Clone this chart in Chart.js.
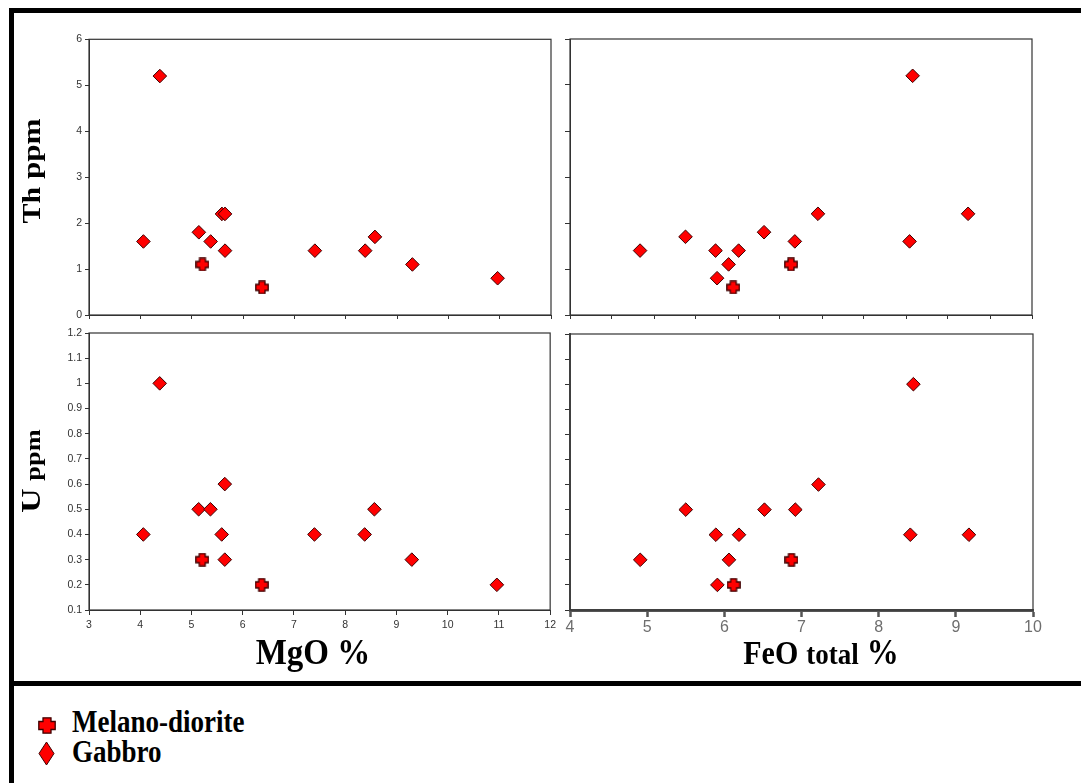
<!DOCTYPE html>
<html>
<head>
<meta charset="utf-8">
<title>Th and U versus MgO and FeO total</title>
<script src="https://cdn.jsdelivr.net/npm/chart.js"></script>
<style>
  body { margin: 0; background: #fff; }
  #page { position: relative; width: 1081px; height: 783px; overflow: hidden; background: #fff; font-family: "Liberation Serif", "Times New Roman", serif; }
  .bar { position: absolute; background: #000; }
  .panel { position: absolute; }
  .title { position: absolute; font-weight: bold; white-space: nowrap; color: #000; }
  .vtitle { line-height: 30px; font-size: 26px; transform: translate(-50%, -50%) rotate(-90deg) scale(1.2, 1); }
  .icon { position: absolute; }
</style>
</head>
<body>
<div id="page">
  <div class="bar" style="left:9px;top:8px;width:1072px;height:5px"></div>
  <div class="bar" style="left:9px;top:8px;width:5px;height:775px"></div>
  <div class="bar" style="left:9px;top:681px;width:1072px;height:5px"></div>

  <canvas id="thMgo" class="panel" width="520" height="300" style="left:40px;top:30px"></canvas>
  <canvas id="thFeo" class="panel" width="521" height="300" style="left:560px;top:30px"></canvas>
  <canvas id="uMgo" class="panel" width="520" height="320" style="left:40px;top:320px"></canvas>
  <canvas id="uFeo" class="panel" width="521" height="320" style="left:560px;top:320px"></canvas>

  <div class="title vtitle" style="left:32px;top:171px"><span style="font-size:25px">Th</span> <span style="font-size:26px">ppm</span></div>
  <div class="title vtitle" style="left:32px;top:471px"><span style="font-size:28px">U</span> <span style="font-size:22px">ppm</span></div>

  <div class="title" style="left:213px;top:633px;width:200px;text-align:center;font-size:33px;line-height:40px;transform:scaleY(1.1);transform-origin:50% 31px">MgO %</div>
  <div class="title" style="left:721px;top:633px;width:200px;text-align:center;font-size:32px;line-height:40px;transform:scaleY(1.1);transform-origin:50% 31px"><span style="font-size:30px">FeO</span> <span style="font-size:27px">total</span> <span style="font-size:32px">%</span></div>

  <canvas id="iconPlus" class="icon" width="18" height="17" style="left:38px;top:717px"></canvas>
  <div class="title" style="left:72px;top:708px;font-size:27px;line-height:30px;transform:scaleY(1.2);transform-origin:0 24px">Melano-diorite</div>
  <canvas id="iconDiamond" class="icon" width="17" height="25" style="left:38px;top:741px"></canvas>
  <div class="title" style="left:72px;top:738px;font-size:27px;line-height:30px;transform:scaleY(1.2);transform-origin:0 24px">Gabbro</div>
</div>

<script>
// samples (same order in every array)
const gabbroMgO = [4.06, 4.38, 5.14, 5.37, 5.59, 5.65, 5.65, 7.40, 8.38, 8.57, 9.30, 10.96];
const gabbroFeO = [8.41, 8.45, 6.52, 6.92, 9.17, 7.22, 4.91, 5.89, 6.19, 5.50, 6.06, 5.91];
const gabbroTh  = [1.6, 5.2, 1.8, 1.6, 2.2, 2.2, 1.4, 1.4, 1.4, 1.7, 1.1, 0.8];
const gabbroU   = [0.4, 1.0, 0.5, 0.5, 0.4, 0.6, 0.3, 0.4, 0.4, 0.5, 0.3, 0.2];

const melanoMgO = [5.21, 6.37];
const melanoFeO = [6.87, 6.12];
const melanoTh  = [1.1, 0.6];
const melanoU   = [0.3, 0.2];

// tick values
const thTicks = [0, 1, 2, 3, 4, 5, 6];
const uTicks = [0.1, 0.2, 0.3, 0.4, 0.5, 0.6, 0.7, 0.8, 0.9, 1, 1.1, 1.2];
const mgoTicks = [3, 4, 5, 6, 7, 8, 9, 10, 11, 12];
const feoTicks = [4, 5, 6, 7, 8, 9, 10];
const feoTopTicks = [4, 4.545, 5.091, 5.636, 6.182, 6.727, 7.273, 7.818, 8.364, 8.909, 9.455, 10];

const RED = '#ff0000';
const EDGE = '#3c0000';

function plusMarker(w, h, arm) {
  const cv = document.createElement('canvas');
  cv.width = w; cv.height = h;
  const c = cv.getContext('2d');
  const cx = w / 2, cy = h / 2, a = arm / 2, e = 0.8;
  c.beginPath();
  c.moveTo(cx - a, e); c.lineTo(cx + a, e); c.lineTo(cx + a, cy - a);
  c.lineTo(w - e, cy - a); c.lineTo(w - e, cy + a); c.lineTo(cx + a, cy + a);
  c.lineTo(cx + a, h - e); c.lineTo(cx - a, h - e); c.lineTo(cx - a, cy + a);
  c.lineTo(e, cy + a); c.lineTo(e, cy - a); c.lineTo(cx - a, cy - a);
  c.closePath();
  c.fillStyle = RED; c.fill();
  c.strokeStyle = EDGE; c.lineWidth = 1.3; c.lineJoin = 'miter'; c.stroke();
  return cv;
}

function drawPlusInto(id) {
  const src = plusMarker(18, 17, 8);
  document.getElementById(id).getContext('2d').drawImage(src, 0, 0);
}

function drawDiamondInto(id) {
  const cv = document.getElementById(id);
  const c = cv.getContext('2d');
  const w = cv.width, h = cv.height;
  c.beginPath();
  c.moveTo(w / 2, 1); c.lineTo(w - 1, h / 2); c.lineTo(w / 2, h - 1); c.lineTo(1, h / 2);
  c.closePath();
  c.fillStyle = RED; c.fill();
  c.strokeStyle = EDGE; c.lineWidth = 1; c.stroke();
}

drawPlusInto('iconPlus');
drawDiamondInto('iconDiamond');

const plus = plusMarker(14, 14, 6);

function pairs(xs, ys) {
  return xs.map((v, i) => ({ x: v, y: ys[i] }));
}

function datasets(gx, gy, mx, my) {
  return [
    {
      label: 'Melano-diorite',
      data: pairs(mx, my),
      pointStyle: plus,
      pointRadius: 7,
      backgroundColor: RED,
      borderColor: EDGE
    },
    {
      label: 'Gabbro',
      data: pairs(gx, gy),
      pointStyle: 'rectRot',
      pointRadius: 6.8,
      backgroundColor: RED,
      borderColor: EDGE,
      borderWidth: 1
    }
  ];
}

function axis(o) {
  return {
    type: 'linear',
    min: o.min,
    max: o.max,
    afterBuildTicks: s => { s.ticks = o.ticks.map(v => ({ value: v })); },
    afterFit: s => { if (o.horizontal) s.height = o.size; else s.width = o.size; },
    grid: {
      drawOnChartArea: false,
      drawTicks: true,
      tickLength: o.tickLength || 4,
      tickWidth: o.tickWidth || 1,
      tickColor: o.tickColor || '#333'
    },
    border: { display: true, color: o.lineColor || '#333', width: o.lineWidth || 1 },
    ticks: {
      display: !!o.labels,
      color: o.labelColor || '#333',
      font: { family: 'Liberation Sans', size: o.fontSize || 10.5 },
      padding: o.padding === undefined ? 3 : o.padding,
      maxRotation: 0,
      autoSkip: false,
      callback: v => String(v)
    }
  };
}

// thin frame round each plot area
const boxPlugin = {
  id: 'box',
  beforeDatasetsDraw(chart) {
    const a = chart.chartArea, c = chart.ctx;
    c.save();
    c.strokeStyle = '#333';
    c.lineWidth = 1.2;
    c.strokeRect(a.left, a.top, a.right - a.left, a.bottom - a.top);
    c.restore();
  }
};

function makeChart(id, data, x, y, padding) {
  return new Chart(document.getElementById(id), {
    type: 'scatter',
    data: { datasets: data },
    options: {
      responsive: false,
      animation: false,
      devicePixelRatio: 1,
      events: [],
      layout: { padding },
      plugins: { legend: { display: false }, tooltip: { enabled: false } },
      scales: { x, y }
    },
    plugins: [boxPlugin]
  });
}

// Th vs MgO
makeChart('thMgo',
  datasets(gabbroMgO, gabbroTh, melanoMgO, melanoTh),
  axis({ min: 3, max: 12, ticks: mgoTicks, horizontal: true, size: 15 }),
  axis({ min: 0, max: 6, ticks: thTicks, size: 49, labels: true }),
  { top: 9, right: 9, left: 0, bottom: 0 });

// Th vs FeO
makeChart('thFeo',
  datasets(gabbroFeO, gabbroTh, melanoFeO, melanoTh),
  axis({ min: 4, max: 10, ticks: feoTopTicks, horizontal: true, size: 15 }),
  axis({ min: 0, max: 6, ticks: thTicks, size: 10, tickLength: 5 }),
  { top: 9, right: 49, left: 0, bottom: 0 });

// U vs MgO
makeChart('uMgo',
  datasets(gabbroMgO, gabbroU, melanoMgO, melanoU),
  axis({ min: 3, max: 12, ticks: mgoTicks, horizontal: true, size: 30, labels: true, tickLength: 5, padding: 4 }),
  axis({ min: 0.1, max: 1.2, ticks: uTicks, size: 49, labels: true }),
  { top: 13, right: 9, left: 0, bottom: 0 });

// U vs FeO (hand-drawn style x axis)
makeChart('uFeo',
  datasets(gabbroFeO, gabbroU, melanoFeO, melanoU),
  axis({ min: 4, max: 10, ticks: feoTicks, horizontal: true, size: 30, labels: true,
         tickLength: 7, tickWidth: 2.5, tickColor: '#555', lineColor: '#555', lineWidth: 3,
         labelColor: '#6e6e6e', fontSize: 16, padding: 1 }),
  axis({ min: 0.1, max: 1.2, ticks: uTicks, size: 10, tickLength: 5, lineWidth: 2, lineColor: '#555' }),
  { top: 14, right: 48, left: 0, bottom: 0 });
</script>
</body>
</html>
